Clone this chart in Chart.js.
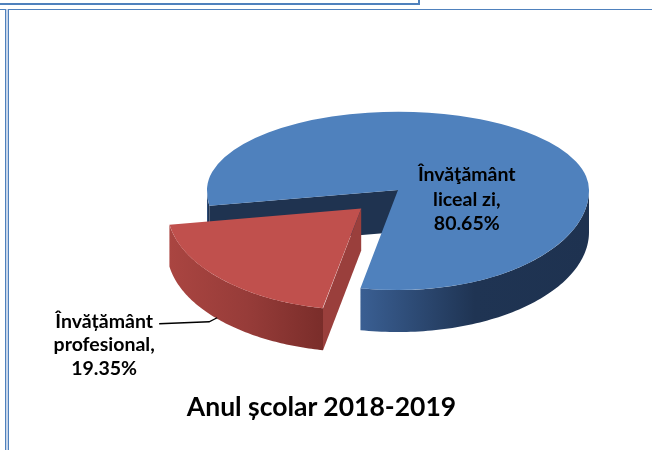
<!DOCTYPE html>
<html>
<head>
<meta charset="utf-8">
<script src="https://cdn.jsdelivr.net/npm/chart.js@4.4.1/dist/chart.umd.min.js"></script>
<style>
  body { margin: 0; background: #fff; }
  #cadru { position: relative; width: 652px; height: 450px; overflow: hidden; }
  #grafic { position: absolute; left: 0; top: 0; }
  .linieSus { position: absolute; left: 0; top: 3px; width: 419px; height: 2px; background: #4f81bd; }
  .coltSus { position: absolute; left: 418px; top: 0; width: 2px; height: 5px; background: #4f81bd; }
  .linieOriz { position: absolute; left: 0; top: 9px; width: 652px; height: 1px; background: #4f81bd; }
  .linieVert { position: absolute; left: 5px; top: 9px; width: 2px; height: 441px;
               border-left: 1px solid #4f81bd; border-right: 1px solid #4f81bd; background: #c6d5ea; }
  #titlu { position: absolute; left: 0; width: 643px; top: 390px; text-align: center;
           font: bold 26.5px Lato, sans-serif; color: #000; }
</style>
</head>
<body>
<div id="cadru">
  <canvas id="grafic" width="652" height="450"></canvas>
  <div class="linieSus"></div>
  <div class="coltSus"></div>
  <div class="linieOriz"></div>
  <div class="linieVert"></div>
  <div id="titlu">Anul școlar 2018-2019</div>
</div>
<script>
// date
const categorii = [['Învăţământ', 'liceal zi,'], ['Învățământ', 'profesional,']];
const procente = [80.65, 19.35];

// stil
const culoriFata = ['#4f81bd', '#c0504d'];
const culoriLaterale = [['#3a5f93', '#1f3453', '#1e3250'], ['#aa4541', '#973c39', '#7a2d2a']];
const culoriTaietura = ['#1f3350', '#9a3f3c'];
const departare = [0, 204];
const TURTIRE_SPATE = 0.41;   // jumatatea din spate (mai mica)
const TURTIRE_FATA = 0.524;   // jumatatea din fata (mai mare)
const ADANCIME = 42;
const FONT_ETICHETA = 'bold 19.5px Lato, sans-serif';

let CY = 0;

function laEcran(x, y) {
    return [x, CY + (y - CY) * (y < CY ? TURTIRE_SPATE : TURTIRE_FATA)];
}

function geometrie(arc, i) {
    const p = arc.getProps(['x', 'y', 'startAngle', 'endAngle', 'outerRadius'], true);
    const off = (arc.options.offset || 0) / 4;
    const mij = (p.startAngle + p.endAngle) / 2;
    const circ = p.endAngle - p.startAngle;
    const r = p.outerRadius + off * (1 - Math.sin(Math.min(Math.PI, circ)));
    const cx = p.x + Math.cos(mij) * off;
    const cy = p.y + Math.sin(mij) * off;
    return {
        i: i, cx: cx, cy: cy, r: r,
        a0: p.startAngle, a1: p.endAngle, mij: mij,
        ordine: laEcran(cx, cy + Math.sin(mij) * r * 0.5)[1]
    };
}

function punct(f, a, jos) {
    const q = laEcran(f.cx + f.r * Math.cos(a), f.cy + f.r * Math.sin(a));
    return [q[0], q[1] + (jos ? ADANCIME : 0)];
}

function desenLaterale(c, f) {
    const centru = laEcran(f.cx, f.cy);
    // fetele de taietura vizibile
    [[f.a0, Math.cos(f.a0) < 0], [f.a1, Math.cos(f.a1) > 0]].forEach(([a, vizibil]) => {
        if (!vizibil) return;
        const sus = punct(f, a, false), jos = punct(f, a, true);
        c.beginPath();
        c.moveTo(centru[0], centru[1]);
        c.lineTo(sus[0], sus[1]);
        c.lineTo(jos[0], jos[1]);
        c.lineTo(centru[0], centru[1] + ADANCIME);
        c.closePath();
        c.fillStyle = culoriTaietura[f.i];
        c.fill();
    });
    // peretele curb din fata
    for (let n = -2; n <= 2; n++) {
        const s = Math.max(f.a0, 2 * Math.PI * n);
        const e = Math.min(f.a1, 2 * Math.PI * n + Math.PI);
        if (e <= s) continue;
        const pasi = 80;
        const sus = [], jos = [];
        for (let k = 0; k <= pasi; k++) {
            const a = s + (e - s) * k / pasi;
            sus.push(punct(f, a, false));
            jos.push(punct(f, a, true));
        }
        const xs = sus.map(q => q[0]);
        const g = c.createLinearGradient(Math.min(...xs), 0, Math.max(...xs), 0);
        const st = culoriLaterale[f.i];
        g.addColorStop(0, st[0]);
        g.addColorStop(0.5, st[1]);
        g.addColorStop(1, st[2]);
        c.beginPath();
        sus.forEach((q, k) => k ? c.lineTo(q[0], q[1]) : c.moveTo(q[0], q[1]));
        jos.reverse().forEach(q => c.lineTo(q[0], q[1]));
        c.closePath();
        c.fillStyle = g;
        c.fill();
    }
}

function turtire(c, k) {
    c.translate(0, CY);
    c.scale(1, k);
    c.translate(0, -CY);
}

function desenEtichete(chart) {
    const c = chart.ctx;
    const felii = chart.getDatasetMeta(0).data.map((arc, i) => geometrie(arc, i));
    c.save();
    c.fillStyle = '#000';
    c.textAlign = 'center';
    c.textBaseline = 'middle';
    c.font = FONT_ETICHETA;

    // felia mare: eticheta in interior
    const a = felii[0];
    const p0 = laEcran(a.cx + a.r * 0.36, a.cy);
    const linii0 = categorii[0].concat([procente[0].toFixed(2) + '%']);
    linii0.forEach((t, k) => c.fillText(t, p0[0], p0[1] - 15 + k * 24.5));

    // felia scoasa: eticheta in stanga, cu linie de legatura
    const b = felii[1];
    const [ax, ay] = punct(b, b.mij + 0.03, true);
    c.strokeStyle = '#000';
    c.lineWidth = 1.3;
    c.beginPath();
    c.moveTo(ax - 58, ay + 5);
    c.lineTo(ax - 8, ay + 3);
    c.lineTo(ax, ay - 1);
    c.stroke();
    const linii1 = categorii[1].concat([procente[1].toFixed(2) + '%']);
    linii1.forEach((t, k) => c.fillText(t, ax - 113, ay + 2.5 + k * 23.5));
    c.restore();
}

const pie3d = {
    id: 'pie3d',
    beforeDatasetsDraw(chart) {
        const c = chart.ctx;
        const meta = chart.getDatasetMeta(0);
        CY = meta.data[0].y;
        const felii = meta.data.map((arc, i) => geometrie(arc, i));
        felii.sort((x, y) => x.ordine - y.ordine);
        felii.forEach(f => desenLaterale(c, f));
        // jumatatea din spate a fetei de sus
        c.save();
        c.beginPath();
        c.rect(0, 0, chart.width, CY);
        c.clip();
        turtire(c, TURTIRE_SPATE);
    },
    afterDatasetsDraw(chart) {
        const c = chart.ctx;
        c.restore();
        // jumatatea din fata a fetei de sus
        c.save();
        c.beginPath();
        c.rect(0, CY, chart.width, chart.height - CY);
        c.clip();
        turtire(c, TURTIRE_FATA);
        chart.getDatasetMeta(0).controller.draw();
        c.restore();
        desenEtichete(chart);
    }
};

const ctx = document.getElementById('grafic').getContext('2d');
new Chart(ctx, {
    type: 'pie',
    data: {
        labels: categorii.map(l => l.join(' ')),
        datasets: [{
            data: procente,
            backgroundColor: culoriFata,
            borderWidth: 0,
            offset: departare,
            hoverOffset: 0,
            rotation: 261,
            radius: 191,
            clip: false
        }]
    },
    options: {
        responsive: false,
        animation: false,
        events: [],
        layout: { padding: { left: 144, right: 0, top: 0, bottom: 70 } },
        plugins: {
            legend: { display: false },
            tooltip: { enabled: false },
            title: { display: false }
        }
    },
    plugins: [pie3d]
});
</script>
</body>
</html>
